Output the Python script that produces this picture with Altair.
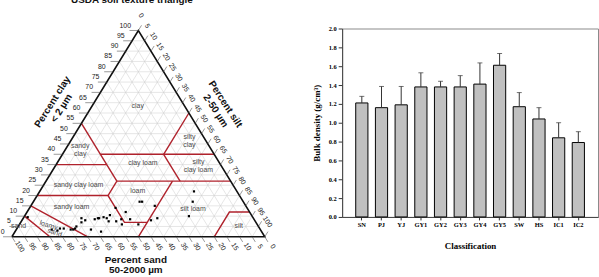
import altair as alt
import pandas as pd

# ---------------- bulk density by site ----------------
sites = ["SN", "PJ", "YJ", "GY1", "GY2", "GY3", "GY4", "GY5", "SW", "HS", "IC1", "IC2"]
density_mean = [1.21, 1.16, 1.19, 1.38, 1.38, 1.38, 1.41, 1.61, 1.17, 1.04, 0.84, 0.79]
density_sd = [0.07, 0.225, 0.195, 0.15, 0.06, 0.12, 0.225, 0.125, 0.15, 0.12, 0.16, 0.115]
density_ticks = [0.0, 0.2, 0.4, 0.6, 0.8, 1.0, 1.2, 1.4, 1.6, 1.8, 2.0]

# ---------------- soil samples (percent sand, percent clay) ----------------
sample_sand = [17, 20, 25, 41, 40, 36, 49, 52, 38, 41, 49, 47, 53.5, 55, 56, 58, 59, 61,
               61.5, 63, 58, 63.5, 67, 67, 68, 69, 72, 73, 74, 75, 77.5, 79, 80.5, 82.5,
               89, 52.5]
sample_clay = [22, 17, 10, 17, 17, 15, 12, 14, 9, 8, 8.5, 6, 6, 7.5, 10.5, 9, 9.5, 9,
               9, 8.5, 7.5, 2.5, 3.5, 8, 9, 7, 5, 4, 3.5, 3.5, 4, 4, 3, 3.5,
               9.5, 8.5]

# USDA texture class boundaries, vertices as (sand %, clay %)
class_boundaries = [
    [(85, 0), (90, 10)],
    [(70, 0), (85, 15)],
    [(80, 20), (52, 20), (52, 7), (43, 7)],
    [(50, 0), (23, 27)],
    [(52, 20), (45, 27)],
    [(45, 27), (0, 27)],
    [(65, 35), (45, 35)],
    [(45, 55), (45, 27)],
    [(45, 40), (0, 40)],
    [(20, 40), (20, 27)],
    [(20, 40), (0, 60)],
    [(20, 0), (8, 12), (0, 12)],
]

# texture class names and where they sit (sand %, clay %)
class_names = ["clay", "clay loam", "sandy clay loam", "loam", "sandy loam", "silt loam",
               "silt", "sand"]
class_sand = [18.5, 30.4, 61, 39.1, 69.1, 21.6, 7.6, 94.7]
class_clay = [63.5, 35.6, 25.3, 22.3, 14.6, 13.6, 5.4, 5.3]
# two-line class names
class_names_2 = ["sandy\nclay", "silty\nclay", "silty\nclay loam"]
class_sand_2 = [52, 6.6, 9.2]
class_clay_2 = [42, 46.4, 34.1]
loamy_sand_words = ["loamy", "sand"]
loamy_sand_sand = [82.75, 82.1]
loamy_sand_clay = [5.5, 2.0]

percent_ticks = list(range(0, 101, 5))

SANS = "Liberation Sans"
SERIF = "Liberation Serif"

# ternary -> panel coordinates: x runs from the sand corner (0) to the silt corner (100)
TX = "100 - datum.sand - datum.clay / 2"
TX2 = "100 - datum.sand2 - datum.clay2 / 2"

x_scale = alt.Scale(domain=[-1.176, 130.59], nice=False, zero=False)
y_scale = alt.Scale(domain=[-19.23, 100.96], nice=False, zero=False)


def pos():
    return dict(
        x=alt.X("x:Q", scale=x_scale, axis=None),
        y=alt.Y("y:Q", scale=y_scale, axis=None),
    )


def segments(df, **mark):
    return (
        alt.Chart(df)
        .transform_calculate(x=TX, y="datum.clay", xe=TX2, ye="datum.clay2")
        .mark_rule(**mark)
        .encode(**pos(), x2="xe:Q", y2="ye:Q")
    )


def texts(df, **mark):
    return (
        alt.Chart(df)
        .transform_calculate(x=TX, y="datum.clay")
        .mark_text(font=SANS, **mark)
        .encode(**pos(), text="label:N")
    )


# grid lines every 5 %
grid_rows = []
for k in percent_ticks[1:-1]:
    grid_rows.append(dict(sand=100 - k, clay=k, sand2=0, clay2=k))
    grid_rows.append(dict(sand=k, clay=0, sand2=k, clay2=100 - k))
    grid_rows.append(dict(sand=100 - k, clay=0, sand2=0, clay2=100 - k))
grid = segments(pd.DataFrame(grid_rows), color="#cdcdcd", strokeWidth=0.5)

# axis ticks on the three sides
tick_rows = []
for k in percent_ticks:
    tick_rows.append(dict(sand=103.5 - k, clay=k, sand2=100 - k, clay2=k))
    tick_rows.append(dict(sand=k, clay=0, sand2=k, clay2=-2.5))
    tick_rows.append(dict(sand=0, clay=100 - k, sand2=-2.5, clay2=102.5 - k))
tick_marks = segments(pd.DataFrame(tick_rows), color="#555", strokeWidth=0.6)

clay_labels = texts(
    pd.DataFrame({"label": [str(k) for k in percent_ticks],
                  "sand": [101.7 - k for k in percent_ticks],
                  "clay": [k + 2.4 for k in percent_ticks]}),
    align="right", baseline="middle", fontSize=7, color="#222")
sand_labels = texts(
    pd.DataFrame({"label": [str(k) for k in percent_ticks],
                  "sand": [k - 0.7 for k in percent_ticks],
                  "clay": [-4.8] * len(percent_ticks)}),
    align="center", baseline="middle", angle=58, fontSize=7, color="#222")
silt_labels = texts(
    pd.DataFrame({"label": [str(k) for k in percent_ticks],
                  "sand": [-4.6] * len(percent_ticks),
                  "clay": [107.2 - k for k in percent_ticks]}),
    align="center", baseline="middle", angle=58, fontSize=7, color="#222")

# class boundaries
bound_rows = []
for i, line in enumerate(class_boundaries):
    for j, (s, c) in enumerate(line):
        bound_rows.append(dict(line=i, order=j, sand=s, clay=c))
boundaries = (
    alt.Chart(pd.DataFrame(bound_rows))
    .transform_calculate(x=TX, y="datum.clay")
    .mark_line(color="#b0222c", strokeWidth=1.4)
    .encode(**pos(), detail="line:N", order="order:Q")
)

# triangle outline
outline = (
    alt.Chart(pd.DataFrame({"order": [0, 1, 2, 3],
                            "sand": [100, 0, 0, 100],
                            "clay": [0, 100, 0, 0]}))
    .transform_calculate(x=TX, y="datum.clay")
    .mark_line(color="#111", strokeWidth=1.6, strokeJoin="miter")
    .encode(**pos(), order="order:Q")
)

class_text = texts(
    pd.DataFrame({"label": class_names, "sand": class_sand, "clay": class_clay}),
    align="center", baseline="middle", fontSize=7, color="#4a4a4a")
class_text_2 = texts(
    pd.DataFrame({"label": class_names_2, "sand": class_sand_2, "clay": class_clay_2}),
    align="center", baseline="middle", fontSize=7, color="#4a4a4a", lineBreak="\n",
    lineHeight=8, dy=-4)
loamy_sand_text = texts(
    pd.DataFrame({"label": loamy_sand_words, "sand": loamy_sand_sand, "clay": loamy_sand_clay}),
    align="center", baseline="middle", fontSize=7, color="#4a4a4a", angle=18)

samples = (
    alt.Chart(pd.DataFrame({"sand": sample_sand, "clay": sample_clay}))
    .transform_calculate(x=TX, y="datum.clay")
    .mark_square(color="black", size=5, opacity=1)
    .encode(**pos())
)

# axis titles, one text line per row
title_lines = pd.DataFrame({
    "label": ["Percent clay", "< 2 µm", "Percent silt", "2-50 µm",
              "Percent sand", "50-2000 µm"],
    "sand": [51.23, 49.26, -16.57, -11.07, 56.51, 59.08],
    "clay": [65.38, 62.26, 64.28, 60.96, -11.06, -16.2],
    "side": ["clay", "clay", "silt", "silt", "sand", "sand"],
})


def title_layer(side, angle):
    return texts(title_lines[title_lines.side == side], align="center", baseline="middle",
                 angle=angle, fontSize=10, fontWeight="bold", color="#111")


clay_title = title_layer("clay", 302)
silt_title = title_layer("silt", 57)
sand_title = title_layer("sand", 0)
top_title = texts(
    pd.DataFrame({"label": ["USDA soil texture triangle"], "sand": [-4.05], "clay": [113.2]}),
    align="center", baseline="alphabetic", fontSize=10, fontWeight="bold", color="#111")

triangle = alt.layer(
    grid, boundaries, outline, tick_marks, clay_labels, sand_labels, silt_labels,
    class_text, class_text_2, loamy_sand_text, samples,
    clay_title, silt_title, sand_title, top_title,
).properties(width=336, height=250, view=alt.ViewBackground(strokeOpacity=0))

# ---------------- bar chart ----------------
density = pd.DataFrame({"site": sites, "mean": density_mean, "sd": density_sd})

x_axis = alt.Axis(labelAngle=0, labelFont=SERIF, labelFontWeight="bold", labelFontSize=6.5,
                  labelColor="black", labelPadding=2, tickSize=3, tickColor="#333",
                  domainColor="#444", titleFont=SERIF, titleFontWeight="bold",
                  titleFontSize=9, titleColor="black", titlePadding=13)
x_scale_bar = alt.Scale(paddingInner=0.38, paddingOuter=0.69)
y_axis = alt.Axis(values=density_ticks, format=".1f", grid=False, labelOverlap=False,
                  labelFont=SERIF, labelFontWeight="bold", labelFontSize=6.5,
                  labelColor="black", labelPadding=2, tickSize=4, tickColor="#333",
                  domainColor="#444", titleFont=SERIF, titleFontWeight="bold",
                  titleFontSize=9, titleColor="black", titlePadding=7)
y_scale_bar = alt.Scale(domain=[0, 2], nice=False)


def x_site():
    return alt.X("site:N", sort=sites, title="Classification", scale=x_scale_bar, axis=x_axis)


def y_val(field):
    return alt.Y(f"{field}:Q", scale=y_scale_bar, axis=y_axis, title="Bulk density (g/cm³)")


base = alt.Chart(density).transform_calculate(upper="datum.mean + datum.sd")
bars = base.mark_bar(fill="#c0c0c0", stroke="black", strokeWidth=1).encode(
    x=x_site(), y=y_val("mean"))
whisker = base.mark_rule(color="#333", strokeWidth=1).encode(
    x=x_site(), y=y_val("mean"), y2="upper:Q")
caps = base.mark_tick(color="#333", size=5, thickness=1, orient="horizontal").encode(
    x=x_site(), y=y_val("upper"))

bar_chart = alt.layer(bars, whisker, caps).properties(
    width=258, height=190,
    view=alt.ViewBackground(stroke="#8a8a8a", strokeWidth=1),
)

chart = alt.hconcat(triangle, bar_chart, spacing=0, bounds="flush").properties(
    padding={"left": 0, "top": -6.4, "right": 0, "bottom": 0},
    background="white",
)

chart.save("out.html", embed_options={"renderer": "svg", "actions": False})
